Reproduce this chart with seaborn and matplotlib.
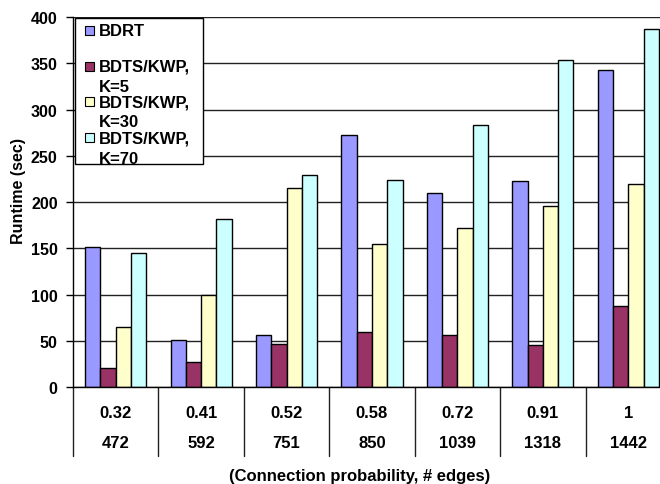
import matplotlib
matplotlib.use("Agg")
import matplotlib.pyplot as plt
import matplotlib.transforms as mtransforms
from matplotlib.patches import Rectangle
import pandas as pd
import seaborn as sns

# ---- data ----
probabilities = ["0.32", "0.41", "0.52", "0.58", "0.72", "0.91", "1"]
edges = ["472", "592", "751", "850", "1039", "1318", "1442"]
series_names = ["BDRT", "BDTS/KWP,\nK=5", "BDTS/KWP,\nK=30", "BDTS/KWP,\nK=70"]
bdrt = [151, 51, 56, 272, 210, 223, 343]
kwp_k5 = [21, 27, 47, 60, 56, 45, 88]
kwp_k30 = [65, 99, 215, 155, 172, 196, 219]
kwp_k70 = [145, 182, 229, 224, 283, 353, 387]
colors = ["#9999FF", "#993366", "#FFFFCC", "#CCFFFF"]

rows = []
for name, vals in zip(series_names, [bdrt, kwp_k5, kwp_k30, kwp_k70]):
    for p, v in zip(probabilities, vals):
        rows.append({"prob": p, "runtime": v, "series": name})
df = pd.DataFrame(rows)

sns.set_theme(style="white")
plt.rcParams["font.family"] = ["Liberation Sans", "DejaVu Sans"]
plt.rcParams["font.weight"] = "bold"
plt.rcParams["text.color"] = "black"
plt.rcParams["axes.labelcolor"] = "black"
plt.rcParams["xtick.color"] = "black"
plt.rcParams["ytick.color"] = "black"

W, H = 660, 485
fig = plt.figure(figsize=(W / 100, H / 100), dpi=100)
fig.patch.set_facecolor("white")
ax_left, ax_right, ax_top, ax_bottom = 73, 671, 18, 388
ax = fig.add_axes([ax_left / W, 1 - ax_bottom / H,
                   (ax_right - ax_left) / W, (ax_bottom - ax_top) / H])

sns.barplot(data=df, x="prob", y="runtime", hue="series",
            order=probabilities, hue_order=series_names,
            palette=colors, saturation=1, width=0.716,
            edgecolor="black", linewidth=1, legend=False, ax=ax)

ax.set_xlim(-0.5, len(probabilities) - 0.5)
ax.set_ylim(0, 400)
ax.set_yticks(range(0, 401, 50))
ax.yaxis.grid(True, color="#222222", linewidth=1)
ax.set_axisbelow(True)
ax.set_facecolor("white")

for side in ["top", "right"]:
    ax.spines[side].set_visible(False)
for side in ["left", "bottom"]:
    ax.spines[side].set_color("black")
    ax.spines[side].set_linewidth(1)

ax.tick_params(axis="y", which="major", left=True, length=5, width=1,
               color="black", labelcolor="black", pad=6, labelsize=11.5)
for lbl in ax.get_yticklabels():
    lbl.set_fontweight("bold")
ax.tick_params(axis="x", length=0, labelbottom=False)
ax.set_xlabel("")
ax.set_ylabel("")


def fx(px):
    return px / W


def fy(py):
    return 1 - py / H


fig.text(fx(19), fy(191), "Runtime (sec)", rotation=90, ha="center",
         va="center", fontsize=11.5, fontweight="bold", color="black")

# category table below the axis
trans = mtransforms.blended_transform_factory(ax.transData, ax.transAxes)
span = ax_bottom - ax_top
row1 = -(418 - ax_bottom) / span
row2 = -(448 - ax_bottom) / span
sep_bottom = -(457 - ax_bottom) / span
for i, (p, e) in enumerate(zip(probabilities, edges)):
    ax.text(i, row1, p, transform=trans, ha="center", va="baseline",
            fontsize=12, fontweight="bold", color="black")
    ax.text(i, row2, e, transform=trans, ha="center", va="baseline",
            fontsize=12, fontweight="bold", color="black")
for b in range(len(probabilities) + 1):
    ax.plot([b - 0.5, b - 0.5], [0, sep_bottom], transform=trans,
            color="#222222", linewidth=1, clip_on=False)

fig.text(fx(360), fy(481), "(Connection probability, # edges)",
         ha="center", va="baseline", fontsize=12, fontweight="bold",
         color="black")

# legend box
fig.patches.append(Rectangle((fx(75), fy(165)), fx(203) - fx(75), (165 - 19) / H,
                             transform=fig.transFigure, facecolor="white",
                             edgecolor="black", linewidth=1, zorder=5))
entry_baselines = [36, 72, 107, 143]
for name, col, base in zip(series_names, colors, entry_baselines):
    fig.patches.append(Rectangle((fx(85), fy(base)), 9 / W, 9.5 / H,
                                 transform=fig.transFigure, facecolor=col,
                                 edgecolor="black", linewidth=0.8, zorder=6))
    for k, line in enumerate(name.split("\n")):
        fig.text(fx(99), fy(base + 20.5 * k), line, ha="left", va="baseline",
                 fontsize=12, fontweight="bold", color="black", zorder=7)

fig.savefig("out.png", dpi=100, facecolor="white")
